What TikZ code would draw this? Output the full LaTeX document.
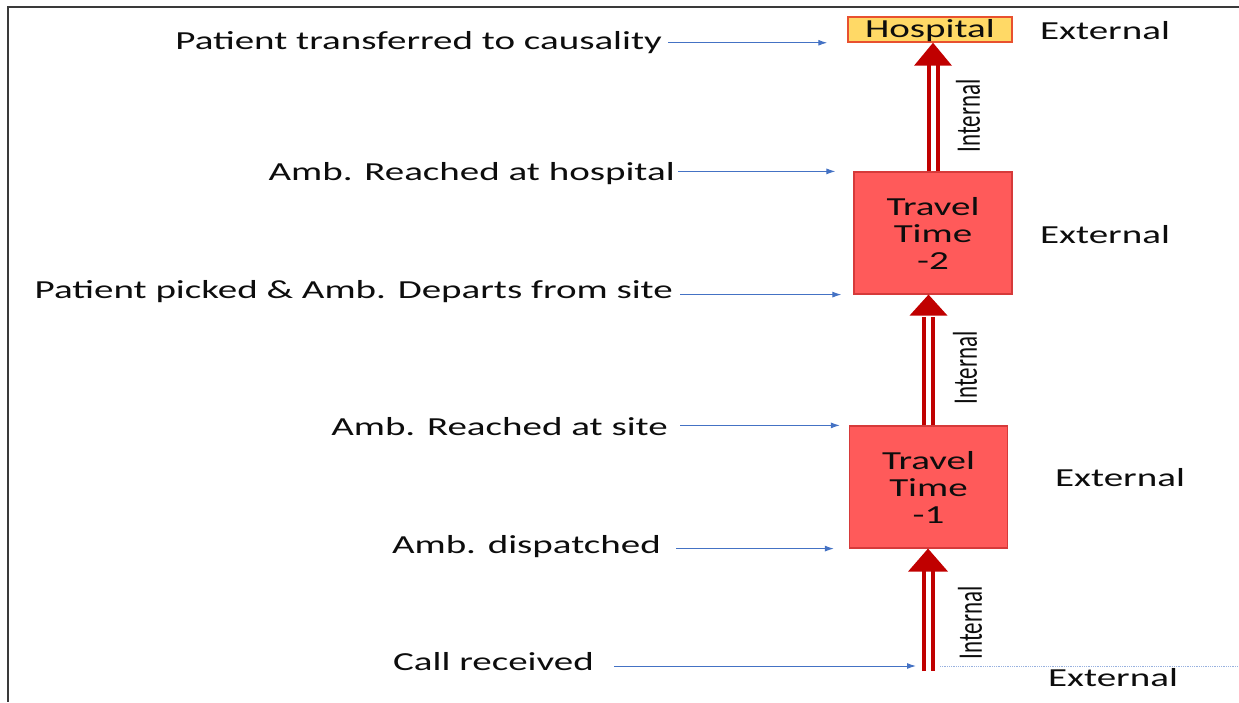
\documentclass[tikz,border=0pt]{standalone}
\usepackage{fontspec}
\setmainfont{Carlito}
\usepackage{tikz}
\usetikzlibrary{arrows.meta, positioning}
\definecolor{boxred}{HTML}{FF5A5A}
\definecolor{boxedge}{HTML}{D63A3A}
\definecolor{hospyellow}{HTML}{FFD966}
\definecolor{hospedge}{HTML}{E8512F}
\definecolor{arrowred}{HTML}{C00000}
\definecolor{linkblue}{HTML}{4472C4}
\definecolor{framegray}{HTML}{3A3A3A}
\newcommand{\stretchtxt}[1]{\scalebox{1.5}[1]{#1}}
\newcommand{\lowered}[2]{\raisebox{-#1}[\height][\depth]{#2}}

\begin{document}
\begin{tikzpicture}[x=1pt, y=1pt, >={Latex[length=9pt,width=6pt]},
    every node/.style={inner sep=0pt, text=black!95, font=\fontsize{26}{27}\selectfont},
    stage/.style={draw=boxedge, line width=1.2pt, fill=boxred, minimum width=158pt, minimum height=122pt},
    hospbox/.style={draw=hospedge, line width=1.5pt, fill=hospyellow, minimum width=164pt, minimum height=25pt},
    evarrow/.style={->, draw=linkblue, line width=1pt},
    shaft/.style={draw=arrowred, line width=4pt, double=white, double distance=5pt, shorten >=22pt},
    redtip/.style={fill=arrowred},
    intlabel/.style={font=\fontsize{23}{24}\selectfont}]
        \useasboundingbox (0,0) rectangle (1239,702);
        \draw[draw=framegray, line width=2pt] (1239,695) -- (8,695) -- (8,0);

        \node[hospbox] (hosp) at (930,672.5) {\lowered{1.5pt}{\stretchtxt{Hospital}}};
        \node[stage] (b2) at (933,469) {\lowered{4pt}{\stretchtxt{\begin{tabular}{@{}c@{}}Travel\\Time\\-2\end{tabular}}}};
        \node[stage] (b1) at (928.5,215) {\lowered{4pt}{\stretchtxt{\begin{tabular}{@{}c@{}}Travel\\Time\\-1\end{tabular}}}};

        \node[anchor=east] (l1) at (662,659) {\stretchtxt{Patient transferred to causality}};
        \node[anchor=east] (l2) at (675,528) {\stretchtxt{Amb. Reached at hospital}};
        \node[anchor=east] (l3) at (673,410) {\stretchtxt{Patient picked \& Amb. Departs from site}};
        \node[anchor=east] (l4) at (668,275) {\stretchtxt{Amb. Reached at site}};
        \node[anchor=east] (l5) at (661,155) {\stretchtxt{Amb. dispatched}};
        \node[anchor=east] (call) at (594,40) {\stretchtxt{Call received}};

        \node (e1) at (1105,671) {\stretchtxt{External}};
        \node (e2) at (1105,467) {\stretchtxt{External}};
        \node (e3) at (1120,224) {\stretchtxt{External}};
        \node (e4) at (1113,24) {\stretchtxt{External}};

        \node[intlabel] (i1) at (968,586) {\stretchtxt{\rotatebox{90}{Internal}}};
        \node[intlabel] (i2) at (965,334) {\stretchtxt{\rotatebox{90}{Internal}}};
        \node[intlabel] (i3) at (970,79) {\stretchtxt{\rotatebox{90}{Internal}}};

        \coordinate (base) at (928,36);
        \coordinate (rim) at (1239,36);

        \draw[evarrow, shorten <=6pt, shorten >=20pt] (l1.east |- hosp.south west) -- (hosp.south west);
        \draw[evarrow, shorten <=3pt, shorten >=18pt] (l2.east |- b2.north west) -- (b2.north west);
        \draw[evarrow, shorten <=7pt, shorten >=12pt] (l3.east |- b2.south west) -- (b2.south west);
        \draw[evarrow, shorten <=12pt, shorten >=9pt] (l4.east |- b1.north west) -- (b1.north west);
        \draw[evarrow, shorten <=15pt, shorten >=15pt] (l5.east |- b1.south west) -- (b1.south west);
        \draw[evarrow, shorten <=20pt, shorten >=12pt] (call.east |- base) -- (base);
        \draw[draw=linkblue!55, line width=0.8pt, densely dotted] ([xshift=12pt]base) -- (rim);

        \draw[shaft] ([yshift=-5pt]base) -- (base |- b1.south);
        \fill[redtip] (base |- b1.south) -- ++(-20,-23) -- ++(40,0) -- cycle;

        \draw[shaft] (b1.north) -- (b1.north |- b2.south);
        \fill[redtip] (b1.north |- b2.south) -- ++(-19,-21) -- ++(38,0) -- cycle;

        \draw[shaft] (b2.north) -- (b2.north |- hosp.south);
        \fill[redtip] (b2.north |- hosp.south) -- ++(-19,-23) -- ++(38,0) -- cycle;
    \end{tikzpicture}
\end{document}
